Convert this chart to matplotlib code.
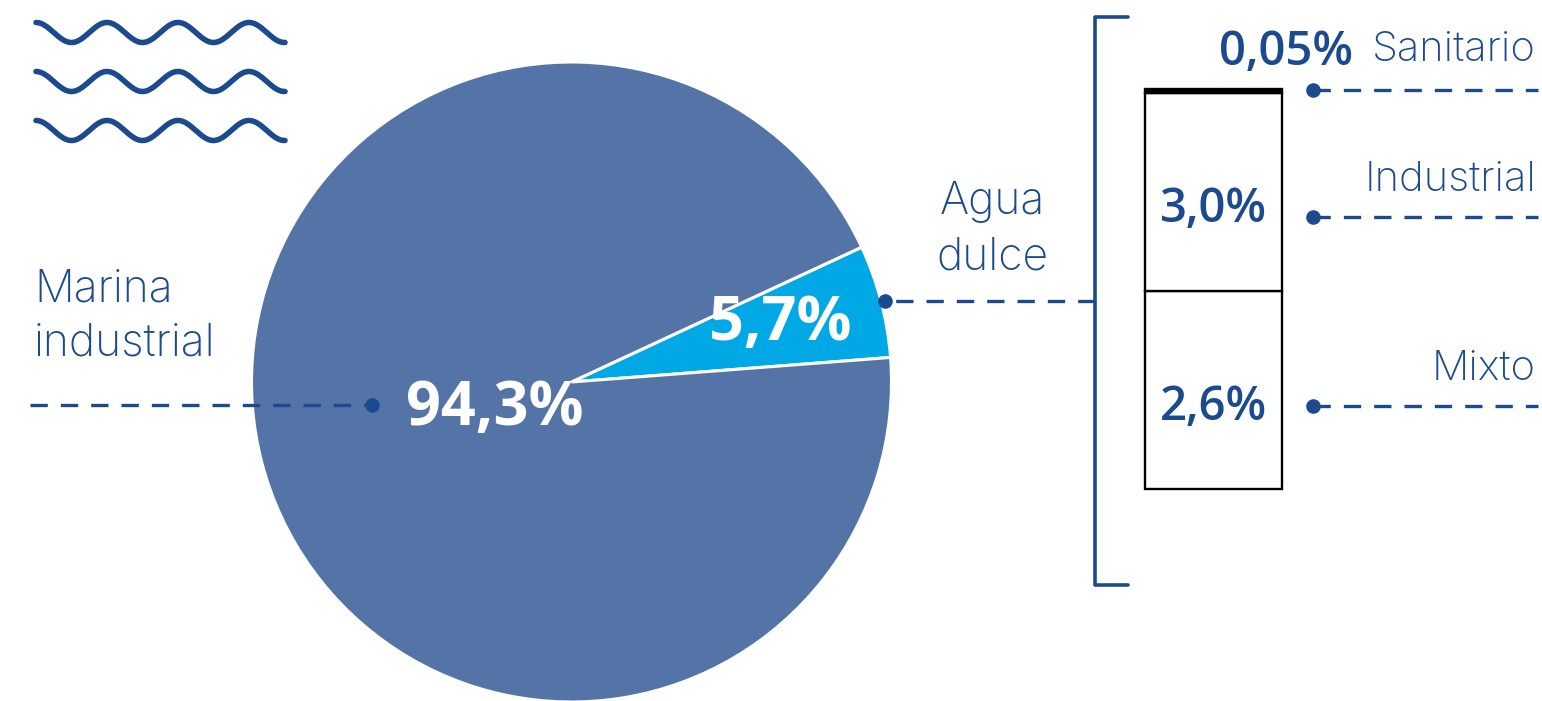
import numpy as np
import matplotlib.pyplot as plt

W, H = 1542, 701

# pie values
pie_labels = ['5,7%', '94,3%']
pie_values = [5.7, 94.3]
pie_colors = ['#00A9E6', '#5474A8']

# stacked column, heights as drawn in the picture (the two big boxes are the same size)
bar_labels = ['2,6%', '3,0%', '0,05%']
bar_heights = [2.8, 2.8, 0.05]
bar_colors = ['white', 'white', 'black']

navy = '#1B4A8F'

plt.rcParams['font.family'] = ['Open Sans', 'DejaVu Sans']

fig = plt.figure(figsize=(W / 100, H / 100), dpi=100)


def px_axes(x0, y0, x1, y1):
    # axes from pixel box, y counted from the top
    return fig.add_axes([x0 / W, 1 - y1 / H, (x1 - x0) / W, (y1 - y0) / H])


# pie
ax_pie = px_axes(571.5 - 320, 382 - 320, 571.5 + 320, 382 + 320)
ax_pie.pie(pie_values, colors=pie_colors, startangle=4.4, radius=1,
           wedgeprops={'edgecolor': 'white', 'linewidth': 2.2}, frame=False)
ax_pie.set_xlim(-1, 1)
ax_pie.set_ylim(-1, 1)
for w in ax_pie.patches:
    w.set_clip_on(False)

# column
ax_bar = px_axes(1145, 89.5, 1282, 488.5)
bottom = 0
for h, c in zip(bar_heights, bar_colors):
    ax_bar.bar(0, h, width=1, bottom=bottom, facecolor=c, edgecolor='black',
               linewidth=1.7, clip_on=False)
    bottom += h
ax_bar.set_xlim(-0.5, 0.5)
ax_bar.set_ylim(0, sum(bar_heights))
ax_bar.axis('off')

# overlay in pixel coordinates for the annotations
ov = fig.add_axes([0, 0, 1, 1], zorder=5)
ov.set_xlim(0, W)
ov.set_ylim(H, 0)
ov.axis('off')
ov.patch.set_alpha(0)

# wave icon
x = np.linspace(36, 285, 300)
for dy in [0, 49, 98]:
    y = 32.5 + dy - 10 * np.cos(2 * np.pi * (x - 36) / 71)
    ov.plot(x, y, color=navy, lw=4.0, solid_capstyle='round')

# bracket
ov.plot([1128, 1095, 1095, 1128], [17, 17, 585, 585], color=navy, lw=2.6,
        solid_capstyle='round', solid_joinstyle='round')

# dashed leader lines with a dot on one end
leaders = [(30, 372, 405, 372), (1095, 885, 301, 885), (1313, 1538, 90, 1313),
           (1313, 1538, 217, 1313), (1313, 1538, 406, 1313)]
for x0, x1, y0, dot in leaders:
    ov.plot([x0, x1], [y0, y0], color=navy, lw=2.4, linestyle=(0, (5.2, 3.9)))
    ov.plot(dot, y0, 'o', color=navy, ms=10.5, mew=0)


# labels
def label(x, y, s, size=29, ha='left', color=navy, weight='normal', font='Open Sans'):
    ov.text(x, y, s, fontsize=size, ha=ha, va='baseline', color=color,
            fontweight=weight, family=font)


thin = 'Inter'
label(34, 301, 'Marina', size=32, weight='light', font=thin)
label(34, 356, 'industrial', size=32, weight='light', font=thin)
label(992, 214, 'Agua', size=32, ha='center', weight='light', font=thin)
label(992, 269, 'dulce', size=32, ha='center', weight='light', font=thin)
label(1536, 61, 'Sanitario', size=30, ha='right', weight='light', font=thin)
label(1536, 191, 'Industrial', size=30, ha='right', weight='light', font=thin)
label(1536, 380, 'Mixto', size=30, ha='right', weight='light', font=thin)

label(495, 425, pie_labels[1], size=44, ha='center', color='white', weight='bold')
label(780, 340, pie_labels[0], size=44, ha='center', color='white', weight='bold')
label(1213, 222, bar_labels[1], size=34, ha='center', weight='semibold')
label(1213, 420, bar_labels[0], size=34, ha='center', weight='semibold')
label(1286, 65, bar_labels[2], size=34, ha='center', weight='semibold')

fig.savefig('out.png', dpi=100)
